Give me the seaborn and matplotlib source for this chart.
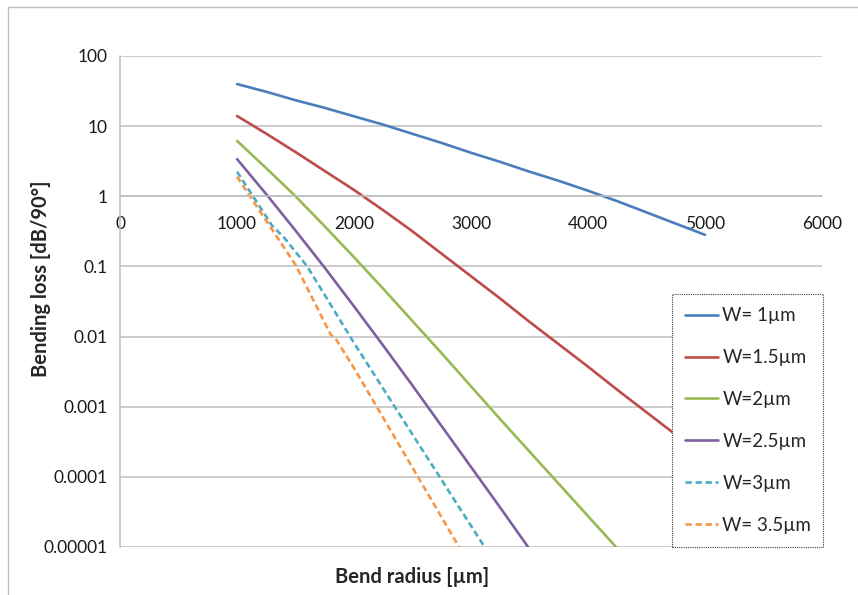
import matplotlib
matplotlib.use("Agg")
import matplotlib.pyplot as plt
from matplotlib.lines import Line2D
import seaborn as sns
import pandas as pd

# 곡선 데이터
x_main = [1000, 1250, 1500, 1750, 2000, 2250, 2500, 2750, 3000,
          3250, 3500, 3750, 4000, 4250, 4500, 4750, 5000]
loss_w1 = [39.8, 30.9, 23.4, 18.2, 13.8, 10.5, 7.76, 5.75, 4.17,
           3.09, 2.24, 1.66, 1.20, 0.851, 0.589, 0.407, 0.282]
loss_w15 = [13.96, 7.8, 4.27, 2.29, 1.23, 0.631, 0.316, 0.151, 0.0724,
            0.0347, 0.0162, 0.00776, 0.00372, 0.00174, 0.000832, 0.000398, 0.000191]
loss_w2 = [6.17, 2.51, 1.0, 0.372, 0.135, 0.0479, 0.0166, 0.00575, 0.00195,
           0.000661, 0.000229, 7.94e-5, 2.75e-5, 9.55e-6, 3.31e-6, 1.15e-6, 3.98e-7]
loss_w25 = [3.39, 1.07, 0.324, 0.0955, 0.0269, 0.00741, 0.002, 0.000525, 0.000138,
            3.63e-5, 9.33e-6, 2.4e-6, 6.31e-7, 1.66e-7, 4.37e-8, 1.15e-8, 3.0e-9]

x_w3 = [1000, 1300, 1400, 1600, 2000, 2500, 3000, 3500]
loss_w3 = [2.24, 0.38, 0.26, 0.1, 0.0081, 0.0004, 2.0e-5, 1e-6]

x_w35 = [1000, 1500, 1800, 1850, 2000, 2500, 3000]
loss_w35 = [1.9, 0.105, 0.0107, 0.0089, 0.00355, 0.000135, 5.1e-6]

labels = ["W= 1µm", "W=1.5µm", "W=2µm", "W=2.5µm", "W=3µm", "W= 3.5µm"]
colors = ["#4A7EBB", "#BE4B48", "#98B954", "#7D60A0", "#4BACC6", "#F79646"]
y_ticks = [1e-5, 1e-4, 1e-3, 1e-2, 1e-1, 1, 10, 100]
y_ticklabels = ["0.00001", "0.0001", "0.001", "0.01", "0.1", "1", "10", "100"]
x_ticks = [0, 1000, 2000, 3000, 4000, 5000, 6000]

series = [
    (x_main, loss_w1), (x_main, loss_w15), (x_main, loss_w2),
    (x_main, loss_w25), (x_w3, loss_w3), (x_w35, loss_w35),
]
frames = []
for lab, (xs, ys) in zip(labels, series):
    frames.append(pd.DataFrame({"r": xs, "loss": ys, "W": lab}))
df = pd.concat(frames, ignore_index=True)

sns.set_style("white")
plt.rcParams["font.family"] = ["Lato", "DejaVu Sans"]

fig = plt.figure(figsize=(8.58, 5.95), dpi=100)
ax = fig.add_axes([0.1399, 0.0807, 0.8182, 0.8252])

dashes = {lab: "" for lab in labels}
dashes["W=3µm"] = (2.4, 1.4)
dashes["W= 3.5µm"] = (2.4, 1.4)

sns.lineplot(data=df, x="r", y="loss", hue="W", style="W",
             palette=dict(zip(labels, colors)), dashes=dashes,
             linewidth=1.9, sort=False, ax=ax)

ax.set_yscale("log")
ax.set_ylim(1e-5, 100)
ax.set_xlim(0, 6000)
ax.set_yticks(y_ticks)
ax.set_yticklabels(y_ticklabels)
ax.minorticks_off()
ax.set_xticks(x_ticks)
ax.set_xticklabels([str(v) for v in x_ticks])

grid_c = "#BFBFBF"
ax.yaxis.grid(True, color=grid_c, linewidth=1.1)
ax.xaxis.grid(False)
ax.set_axisbelow(True)

# 엑셀처럼 x축을 y=1 위치에
for s in ["top", "right"]:
    ax.spines[s].set_visible(False)
ax.spines["bottom"].set_position(("data", 1))
ax.spines["bottom"].set_color(grid_c)
ax.spines["left"].set_color(grid_c)
ax.spines["bottom"].set_linewidth(1.1)
ax.spines["left"].set_linewidth(1.1)
ax.tick_params(axis="both", which="major", direction="out", length=6,
               color=grid_c, width=1.1, labelsize=12.5, labelcolor="#1a1a1a")
ax.tick_params(axis="x", pad=8)
ax.tick_params(axis="y", pad=3)

ax.set_xlabel("Bend radius [µm]", fontsize=14.5, fontweight="bold", va="center")
ax.xaxis.set_label_coords(0.416, -0.061)
ax.set_ylabel("Bending loss [dB/90°]", fontsize=14.5, fontweight="bold")
ax.yaxis.set_label_coords(-0.099, 0.546)

handles, labs = ax.get_legend_handles_labels()
leg = ax.legend(handles, labs, loc="lower left",
                bbox_to_anchor=(0.786, 0.0, 0.216, 0.52), mode="expand",
                fontsize=13.5, frameon=True, fancybox=False, framealpha=1,
                facecolor="white", edgecolor="#404040", borderpad=0.7,
                labelspacing=1.33, handlelength=1.75, handletextpad=0.25,
                borderaxespad=0)
leg.get_frame().set_linestyle((0, (1, 1)))
leg.get_frame().set_linewidth(0.8)

# 바깥 테두리 (위/왼쪽)
fig.add_artist(Line2D([0.0093, 1.0], [0.988, 0.988], color="#BFBFBF", lw=1))
fig.add_artist(Line2D([0.0093, 0.0093], [0.0, 0.988], color="#BFBFBF", lw=1))

fig.savefig("out.png", dpi=100)
